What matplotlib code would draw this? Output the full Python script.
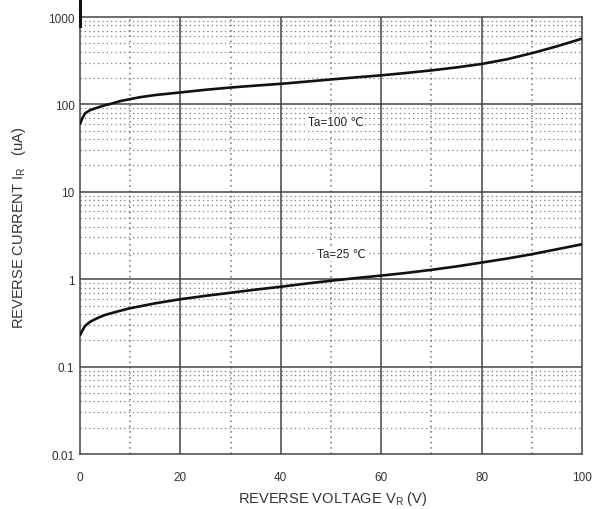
import matplotlib
matplotlib.use("Agg")
import matplotlib.pyplot as plt
import numpy as np

# Data
voltage = [0, 0.5, 1, 2, 3, 4, 5, 6, 8, 10, 12, 15, 20, 25, 30, 35, 40, 45, 50,
           55, 60, 65, 70, 75, 80, 85, 90, 95, 100]
ir_100 = [60, 70, 79, 86, 90, 94, 98, 101, 109, 115, 121, 128, 137, 147, 156, 164, 172,
          182, 193, 204, 215, 229, 245, 265, 290, 328, 385, 462, 565]
ir_25 = [0.229, 0.26, 0.292, 0.325, 0.348, 0.37, 0.39, 0.405, 0.435, 0.466, 0.49, 0.53,
         0.59, 0.645, 0.70, 0.76, 0.82, 0.89, 0.96, 1.03, 1.10, 1.18, 1.28, 1.40, 1.55,
         1.72, 1.93, 2.20, 2.51]
x_ticks = [0, 20, 40, 60, 80, 100]
y_ticks = [0.01, 0.1, 1, 10, 100, 1000]
y_tick_labels = ["0.01", "0.1", "1", "10", "100", "1000"]

plt.rcParams['font.family'] = ['Liberation Sans', 'DejaVu Sans']

fig = plt.figure(figsize=(6.01, 5.10), dpi=100)
ax = fig.add_axes([80/601, 1-455/510, 502/601, 437/510])

ax.set_xscale('linear')
ax.set_yscale('log')
ax.set_xlim(0, 100)
ax.set_ylim(0.01, 1000)

# minor horizontal dotted grid
for dec in [0.01, 0.1, 1, 10, 100]:
    for m in range(2, 10):
        ax.axhline(dec*m, color='#7f7f7f', lw=0.9, ls=(0, (1, 2.5)), zorder=1)
# vertical dotted lines
for xv in [10, 30, 50, 70, 90]:
    ax.axvline(xv, color='#6f6f6f', lw=1.1, ls=(0, (1, 2.5)), zorder=1)
# major solid grid
for xv in [20, 40, 60, 80]:
    ax.axvline(xv, color='#444444', lw=1.1, zorder=2)
for yv in [0.1, 1, 10, 100]:
    ax.axhline(yv, color='#444444', lw=1.1, zorder=2)

ax.plot(voltage, ir_100, color='#111111', lw=1.9, zorder=5, solid_capstyle='round',
        solid_joinstyle='round')
ax.plot(voltage, ir_25, color='#111111', lw=1.9, zorder=5, solid_capstyle='round',
        solid_joinstyle='round')

ax.text(45.5, 102 * 0.62, "Ta=100 \u2103", fontsize=8.5, color='#222222', ha='left', va='center',
        zorder=4, bbox=dict(facecolor='white', edgecolor='none', pad=1.0))
ax.text(47.2, 1.95, "Ta=25 \u2103", fontsize=8.5, color='#222222', ha='left', va='center',
        zorder=4, bbox=dict(facecolor='white', edgecolor='none', pad=1.0))

for s in ax.spines.values():
    s.set_color('#444444')
    s.set_linewidth(1.1)

ax.set_xticks(x_ticks)
ax.set_xticklabels([str(v) for v in x_ticks])
ax.set_yticks(y_ticks)
ax.set_yticklabels(y_tick_labels)
ax.yaxis.set_minor_locator(matplotlib.ticker.NullLocator())
ax.tick_params(axis='both', length=0, labelsize=8.5, labelcolor='#333333')
ax.tick_params(axis='x', pad=12)
ax.tick_params(axis='y', pad=4)

fig.text(333/601, 1-499/510, r"REVERSE VOLTAGE V$_{\mathregular{R}}$ (V)", fontsize=10.5,
         color='#333333', ha='center', va='center')
fig.text(19/601, 1-228/510, r"REVERSE CURRENT I$_{\mathregular{R}}$   (uA)", fontsize=10.5,
         color='#333333', ha='center', va='center', rotation=90)

# thick mark at the top-left above the axis
fig.add_artist(matplotlib.lines.Line2D([80/601, 80/601], [1-27/510, 1.0], color='#111111', lw=2.2))

fig.savefig("out.png", dpi=100)
